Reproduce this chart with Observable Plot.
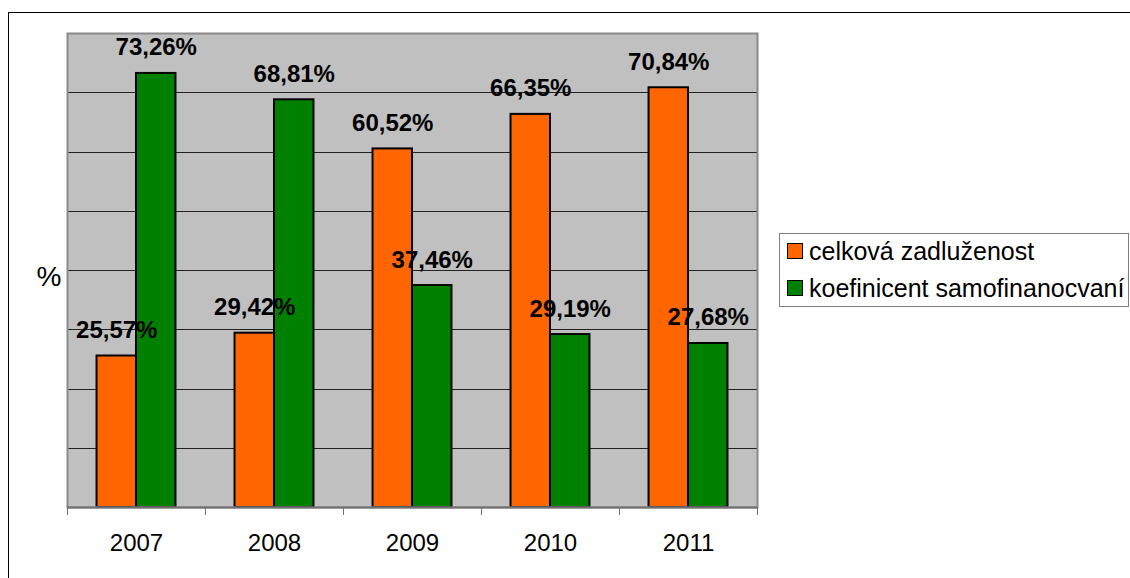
<!DOCTYPE html>
<html><head><meta charset="utf-8">
<script src="https://cdn.jsdelivr.net/npm/d3@7"></script>
<script src="https://cdn.jsdelivr.net/npm/@observablehq/plot@0.6"></script>
<style>
body{margin:0;background:#fff;font-family:"Liberation Sans",Arial,sans-serif;}
#wrap{position:relative;width:1130px;height:578px;overflow:hidden;background:#fff;}
#wrap svg{position:absolute;left:0;top:0;}
#frame{position:absolute;left:8px;top:12px;width:1300px;height:800px;border-left:1px solid #000;border-top:1px solid #000;pointer-events:none;}
#legend{position:absolute;left:779px;top:233px;width:350px;height:74px;border:1px solid #808080;box-sizing:border-box;}
.sw{position:absolute;width:16px;height:16px;border:1.5px solid #000;box-sizing:border-box;}
.lt{position:absolute;font-size:25px;line-height:25px;white-space:nowrap;color:#000;}
.crisp line{shape-rendering:crispEdges;}
</style>
</head><body>
<div id="wrap"><div id="frame"></div></div>
<script>
const years = ["2007", "2008", "2009", "2010", "2011"];
const seriesNames = ["celková zadluženost", "koefinicent samofinanocvaní"];
const zadluzenost = [25.57, 29.42, 60.52, 66.35, 70.84];
const samofinancovani = [73.26, 68.81, 37.46, 29.19, 27.68];
const seriesColors = ["#FF6600", "#008000"];
const yGrid = [10, 20, 30, 40, 50, 60, 70];

const rowsA = years.map((y, i) => ({year: y, series: seriesNames[0], value: zadluzenost[i]}));
const rowsB = years.map((y, i) => ({year: y, series: seriesNames[1], value: samofinancovani[i]}));

const W = 1130, H = 578, ml = 67, mr = 373, mt = 33, mb = 71;
const bw = (W - ml - mr) / years.length;
const outer = bw * 0.214;
const half = bw / 2;
const lblOff = (half - outer) / 2;
const fmt = d => d.value.toFixed(2).replace(".", ",") + "%";

const chart = Plot.plot({
  width: W, height: H,
  marginLeft: ml, marginRight: mr, marginTop: mt, marginBottom: mb,
  x: {domain: years, padding: 0},
  y: {domain: [0, 80], axis: null},
  color: {domain: seriesNames, range: seriesColors},
  style: {fontFamily: "'Liberation Sans', Arial, sans-serif", fontSize: "24px", color: "#000", background: "transparent", overflow: "visible"},
  marks: [
    Plot.frame({fill: "#c0c0c0"}),
    Plot.ruleY(yGrid, {stroke: "#222", strokeWidth: 1, className: "crisp"}),
    Plot.barY(rowsA, {x: "year", y: "value", fill: "series", stroke: "#000", strokeWidth: 2, insetLeft: outer, insetRight: half}),
    Plot.barY(rowsB, {x: "year", y: "value", fill: "series", stroke: "#000", strokeWidth: 2, insetLeft: half, insetRight: outer}),
    Plot.frame({stroke: "#8a8a8a", strokeWidth: 2}),
    Plot.ruleY([0], {stroke: "#707070", strokeWidth: 2}),
    Plot.axisX({tickSize: 0, tickPadding: 26, fontSize: 24, label: null}),
    Plot.axisX({tickSize: 8, tickFormat: () => "", dx: -half, stroke: "#707070", label: null}),
    Plot.axisX({ticks: [years[years.length - 1]], tickSize: 8, tickFormat: () => "", dx: half, stroke: "#707070", label: null}),
    Plot.text(rowsA, {x: "year", y: "value", text: fmt, dx: -lblOff, dy: -18, lineAnchor: "bottom", fontWeight: "bold", fontSize: 24, fill: "#000"}),
    Plot.text(rowsB, {x: "year", y: "value", text: fmt, dx: lblOff, dy: -18, lineAnchor: "bottom", fontWeight: "bold", fontSize: 24, fill: "#000"}),
    Plot.text(["%"], {frameAnchor: "left", dx: -18.5, dy: 15.5, lineAnchor: "bottom", textAnchor: "middle", fontSize: 28, fill: "#000"})
  ]
});
const wrap = document.getElementById("wrap");
wrap.insertBefore(chart, wrap.firstChild);

// legend
const legend = document.createElement("div");
legend.id = "legend";
wrap.appendChild(legend);
const color = chart.scale("color");
const legendRows = [{top: 243, ttop: 239}, {top: 280, ttop: 276}];
seriesNames.forEach((name, i) => {
  const sw = document.createElement("div");
  sw.className = "sw";
  sw.style.left = "787px";
  sw.style.top = legendRows[i].top + "px";
  sw.style.background = color.apply(name);
  wrap.appendChild(sw);
  const t = document.createElement("div");
  t.className = "lt";
  t.style.left = "809px";
  t.style.top = legendRows[i].ttop + "px";
  t.textContent = name;
  wrap.appendChild(t);
});
</script>
</body></html>
